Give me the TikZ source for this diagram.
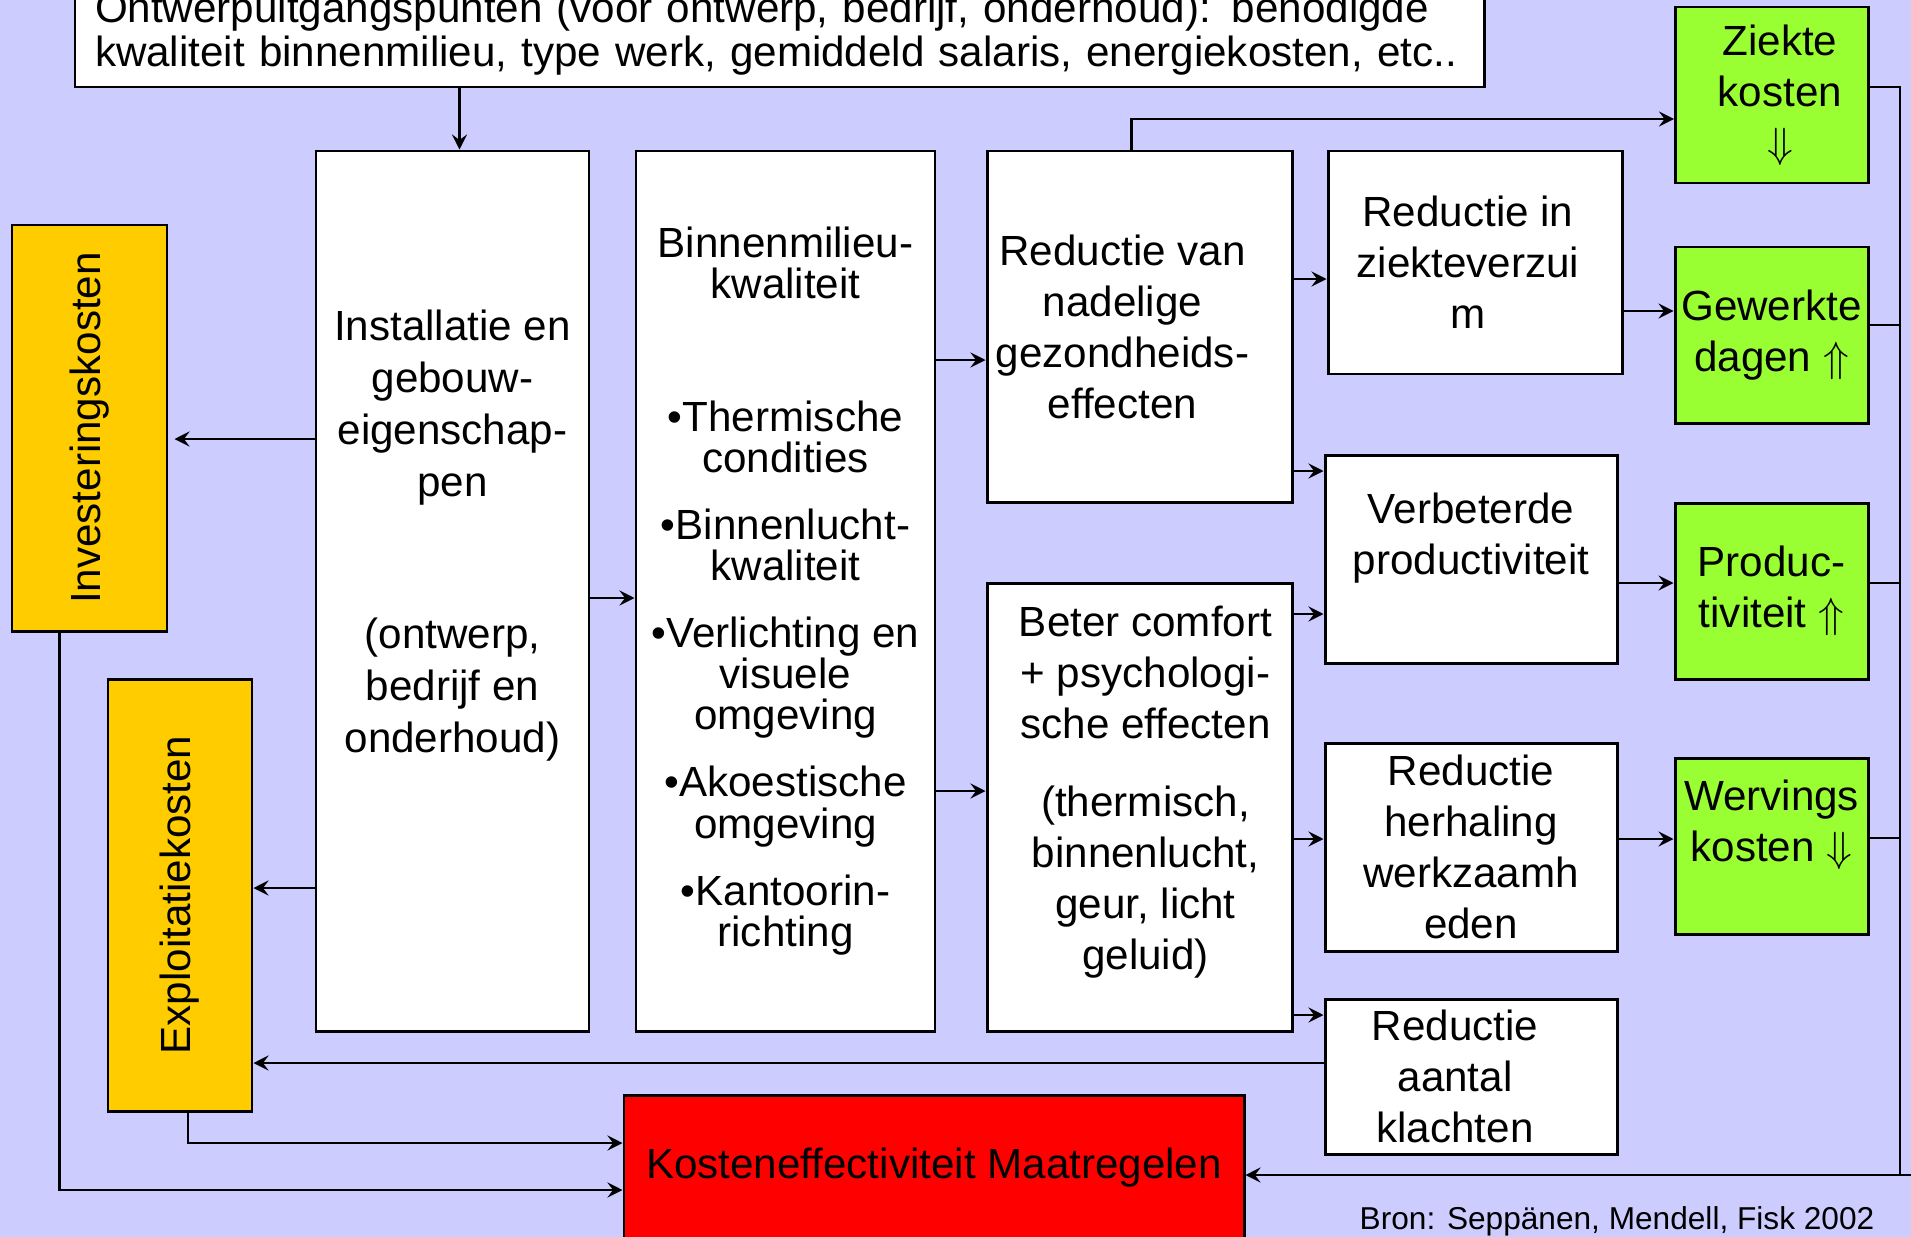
\documentclass[tikz,border=0pt]{standalone}
\usepackage{fontspec}
\setmainfont{Liberation Sans}
\usetikzlibrary{arrows.meta,calc}
\newdimen\pxl \pxl=0.1mm
\definecolor{bgblue}{HTML}{CCCCFF}
\definecolor{costyel}{HTML}{FFCC00}
\definecolor{gain}{HTML}{99FF33}
\definecolor{kred}{HTML}{FF0000}
\tikzset{
  box/.style={draw, line width=0.85pt, fill=white, align=center, inner sep=0pt,
              font=\fontsize{12}{14.5}\selectfont},
  lbl/.style={align=center, inner sep=0pt, font=\fontsize{12}{14.5}\selectfont},
  costbox/.style={box, fill=costyel},
  gainbox/.style={box, fill=gain, minimum width=193*\pxl, minimum height=176*\pxl},
  arr/.style={line width=0.6pt, -{Stealth[length=4.3pt,width=4.3pt,inset=1.6pt]}},
  lin/.style={line width=0.6pt},
}

\begin{document}
\begin{tikzpicture}[x=0.1mm, y=-0.1mm]
        \useasboundingbox (0,0) rectangle (1911,1237);
        \fill[bgblue] (0,0) rectangle (1911,1237);

        % Starting points
        \node[box, align=left, minimum width=1409*\pxl, minimum height=107*\pxl, text width=1369*\pxl,
              font=\fontsize{12}{12.4}\selectfont] (top) at (779.5,33.5)
              {Ontwerpuitgangspunten (voor ontwerp, bedrijf, onderhoud): benodigde\\
               kwaliteit binnenmilieu, type werk, gemiddeld salaris, energiekosten, etc..};

        % Measures and indoor climate
        \node[box, minimum width=273*\pxl, minimum height=880*\pxl, font=\fontsize{12}{14.8}\selectfont]
              (inst) at (452.5,591)
              {Installatie en\\gebouw-\\eigenschap-\\pen\\[28.4pt](ontwerp,\\bedrijf en\\onderhoud)\\[19pt]~};
        \node[box, minimum width=299*\pxl, minimum height=880*\pxl, font=\fontsize{12}{11.7}\selectfont]
              (binnen) at (785.5,591)
              {Binnenmilieu-\\kwaliteit\\[26pt]%
               •Thermische\\condities\\[7.4pt]%
               •Binnenlucht-\\kwaliteit\\[7.4pt]%
               •Verlichting en\\visuele\\omgeving\\[7.4pt]%
               •Akoestische\\omgeving\\[7.4pt]%
               •Kantoorin-\\richting};

        % Effects
        \node[box, minimum width=305*\pxl, minimum height=351*\pxl,
              label={[lbl, xshift=-17*\pxl]center:{Reductie van\\nadelige\\gezondheids-\\effecten}}]
              (redvan) at (1139.5,326.5) {};
        \node[box, minimum width=305*\pxl, minimum height=448*\pxl,
              label={[lbl, xshift=6*\pxl]center:{Beter comfort\\+ psychologi-\\sche effecten\\[7.7pt](thermisch,\\binnenlucht,\\geur, licht\\geluid)\\[-3.4pt]~}}]
              (beter) at (1139.5,807) {};
        \node[box, minimum width=294*\pxl, minimum height=223*\pxl,
              label={[lbl, xshift=-7*\pxl]center:{Reductie in\\ziekteverzui\\m}}]
              (redin) at (1475,262.5) {};
        \node[box, minimum width=292*\pxl, minimum height=208*\pxl] (verb) at (1471,559)
              {Verbeterde\\productiviteit\\~};
        \node[box, minimum width=292*\pxl, minimum height=208*\pxl] (herh) at (1471,847)
              {Reductie\\herhaling\\werkzaamh\\eden};
        \node[box, minimum width=292*\pxl, minimum height=155*\pxl,
              label={[lbl, xshift=-16*\pxl]center:{Reductie\\aantal\\klachten}}]
              (klacht) at (1471,1076.5) {};

        % Gains
        \node[gainbox, label={[lbl, xshift=8*\pxl]center:{Ziekte\\kosten\\$\Downarrow$}}]
                                (ziekte) at (1772,95)      {};
        \node[gainbox] (gew)    at (1771.5,335)  {Gewerkte\\dagen $\Uparrow$};
        \node[gainbox] (prod)   at (1771.5,591)  {Produc-\\tiviteit $\Uparrow$};
        \node[gainbox] (werv)   at (1771.5,846.5){Wervings\\kosten $\Downarrow$\\~};

        % Costs
        \node[costbox, minimum width=155*\pxl, minimum height=406*\pxl] (inv)  at (89.5,428) {\rotatebox{90}{Investeringskosten}};
        \node[costbox, minimum width=144*\pxl, minimum height=432*\pxl] (expl) at (180,895)  {\rotatebox{90}{Exploitatiekosten}};
        \node[box, fill=kred, minimum width=620*\pxl, minimum height=146*\pxl] (kosten) at (934,1168) {Kosteneffectiviteit Maatregelen};

        \node[inner sep=0pt, font=\fontsize{9}{10}\selectfont] (bron) at (1617,1221) {Bron: Seppänen, Mendell, Fisk 2002};

        % Arrows
        \coordinate (instin) at ($(inst.north)+(7,0)$);
        \draw[arr] (top.south -| instin) -- (instin);
        \draw[arr, shorten >=6*\pxl] (inst.west |- 0,439) -- (inv.east |- 0,439);
        \draw[arr] (inst.west |- 0,888)   -- (expl.east |- 0,888);
        \draw[arr] (inst.east |- 0,598)   -- (binnen.west |- 0,598);
        \draw[arr] (binnen.east |- 0,360) -- (redvan.west |- 0,360);
        \draw[arr] (binnen.east |- 0,791) -- (beter.west |- 0,791);
        \draw[arr] ($(redvan.north)+(-8,0)$) |- (ziekte.west |- 0,119);
        \draw[arr] (redvan.east |- 0,279) -- (redin.west |- 0,279);
        \draw[arr] (redvan.east |- 0,471) -- (verb.west |- 0,471);
        \draw[arr] (redin.east |- 0,311)  -- (gew.west |- 0,311);
        \draw[arr] (verb.east |- 0,583)   -- (prod.west |- 0,583);
        \draw[arr] (beter.east |- 0,614)  -- (verb.west |- 0,614);
        \draw[arr] (beter.east |- 0,839)  -- (herh.west |- 0,839);
        \draw[arr] (beter.east |- 0,1015) -- (klacht.west |- 0,1015);
        \draw[arr] (herh.east |- 0,839)   -- (werv.west |- 0,839);
        \draw[arr] (klacht.west |- 0,1063) -- (expl.east |- 0,1063);

        % Right bus to the result
        \coordinate (bus)    at (1900,87);
        \coordinate (busend) at (1900,1175);
        \coordinate (edge)   at (1911,1175);
        \draw[lin] (ziekte.east |- bus) -- (bus) -- (busend);
        \draw[lin] (gew.east |- 0,325)  -- (bus |- 0,325);
        \draw[lin] (prod.east |- 0,583) -- (bus |- 0,583);
        \draw[lin] (werv.east |- 0,838) -- (bus |- 0,838);
        \draw[arr] (edge) -- (kosten.east |- edge);
        \draw[arr] ($(inv.south)+(-30,0)$) |- (kosten.west |- 0,1190);
        \draw[arr] ($(expl.south)+(8,0)$)  |- (kosten.west |- 0,1143);
\end{tikzpicture}
\end{document}
